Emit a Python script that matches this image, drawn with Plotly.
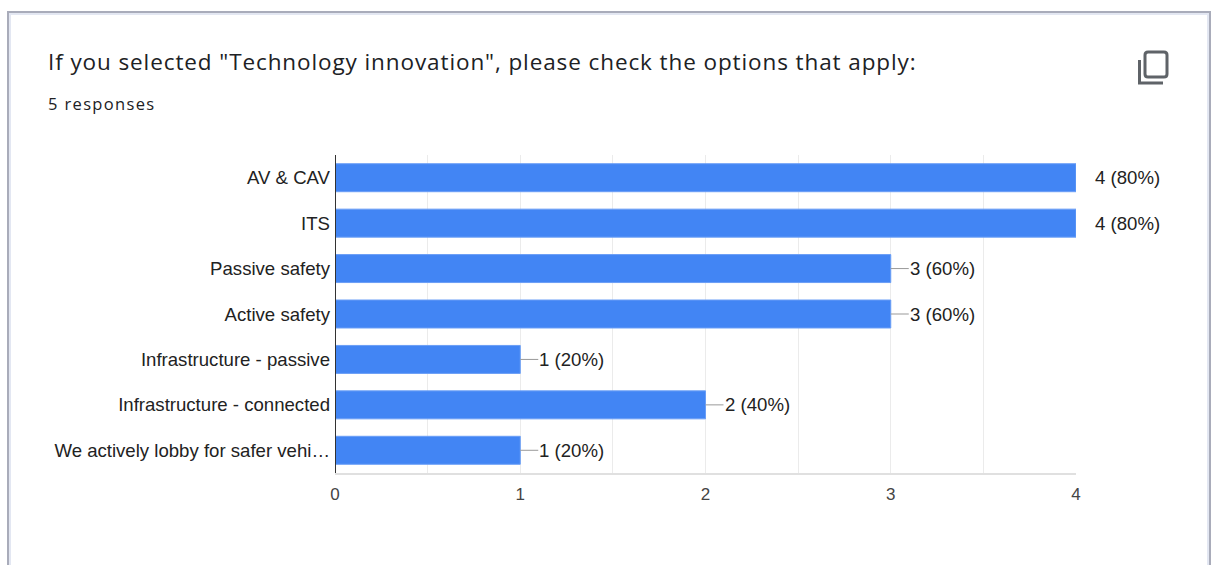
import plotly.graph_objects as go

# Survey results: technology innovation options (5 responses)
question = 'If you selected "Technology innovation", please check the options that apply:'
response_count = 5
options = [
    "AV & CAV",
    "ITS",
    "Passive safety",
    "Active safety",
    "Infrastructure - passive",
    "Infrastructure - connected",
    "We actively lobby for safer vehi\u2026",
]
counts = [4, 4, 3, 3, 1, 2, 1]
x_ticks = [0, 1, 2, 3, 4]

W, H = 1213, 565
L, R, T, B = 335, 1076, 155, 473  # plot area in pixels


def px(x):
    return (x - L) / (R - L)


def py(y):
    return (B - y) / (B - T)


BAR = "#4285f4"
TEXT = "#222222"
LABEL_FONT = "Liberation Sans, Arial"
x_max = max(x_ticks)
unit_px = (R - L) / x_max
lead_px = 18

fig = go.Figure(
    go.Bar(
        x=counts,
        y=options,
        orientation="h",
        marker=dict(color=BAR, line=dict(color="#6a9ef6", width=1)),
        hoverinfo="skip",
    )
)

# value labels with leader lines
shapes = []
annotations = []
for opt, c in zip(options, counts):
    label = f"{c} ({round(100 * c / response_count)}%)"
    if c < x_max:
        shapes.append(dict(type="line", xref="x", yref="y", x0=c, x1=c + lead_px / unit_px,
                           y0=opt, y1=opt, line=dict(color="#999999", width=1)))
    annotations.append(dict(x=c, y=opt, xref="x", yref="y", text=label, showarrow=False,
                            xanchor="left", yanchor="middle", xshift=lead_px - 1,
                            font=dict(family=LABEL_FONT, size=18.6, color=TEXT)))

# header texts
annotations.append(dict(x=px(46), y=py(62), xref="paper", yref="paper",
                        text=f'<span style="letter-spacing:0.9px">{question}</span>',
                        showarrow=False, xanchor="left", yanchor="middle",
                        font=dict(family="Open Sans", size=22.5, color="#202124")))
annotations.append(dict(x=px(46), y=py(104), xref="paper", yref="paper",
                        text=f'<span style="letter-spacing:1.35px">{response_count} responses</span>',
                        showarrow=False, xanchor="left", yanchor="middle",
                        font=dict(family="Open Sans", size=16.5, color="#202124")))

# card outline
shapes.append(dict(type="rect", xref="paper", yref="paper", x0=px(8), x1=px(1210),
                   y0=py(600), y1=py(12), line=dict(color="#a9acba", width=2), layer="below"))
shapes.append(dict(type="rect", xref="paper", yref="paper", x0=px(10), x1=px(1208),
                   y0=py(600), y1=py(14), line=dict(color="#e3e7f2", width=2), layer="below"))

# copy icon
icon = dict(color="#5f6368", width=3)
shapes.append(dict(type="path", xref="paper", yref="paper",
                   path=f"M {px(1139.5)},{py(60)} L {px(1139.5)},{py(83)} L {px(1163)},{py(83)}",
                   line=icon))
r = 3
x0, x1, y0, y1 = 1145, 1167, 52, 77
shapes.append(dict(type="path", xref="paper", yref="paper",
                   path=(f"M {px(x0 + r)},{py(y0)} L {px(x1 - r)},{py(y0)} "
                         f"Q {px(x1)},{py(y0)} {px(x1)},{py(y0 + r)} "
                         f"L {px(x1)},{py(y1 - r)} Q {px(x1)},{py(y1)} {px(x1 - r)},{py(y1)} "
                         f"L {px(x0 + r)},{py(y1)} Q {px(x0)},{py(y1)} {px(x0)},{py(y1 - r)} "
                         f"L {px(x0)},{py(y0 + r)} Q {px(x0)},{py(y0)} {px(x0 + r)},{py(y0)} Z"),
                   line=icon))

fig.update_layout(
    width=W, height=H,
    margin=dict(l=L, r=W - R, t=T, b=H - B),
    paper_bgcolor="white", plot_bgcolor="white",
    bargap=0.384,
    showlegend=False,
    shapes=shapes,
    annotations=annotations,
    xaxis=dict(range=[0, x_max], tickvals=x_ticks, ticktext=[str(t) for t in x_ticks],
               showgrid=True, gridcolor="#ebebeb", gridwidth=1,
               minor=dict(dtick=0.5, showgrid=True, gridcolor="#ebebeb", gridwidth=1),
               zeroline=False, showline=True, linecolor="#e0e0e0", linewidth=2, mirror=False,
               ticks="", ticklabelstandoff=5,
               tickfont=dict(family=LABEL_FONT, size=17, color="#444444")),
    yaxis=dict(autorange="reversed", showgrid=False, zeroline=False,
               showline=False, ticks="", ticklabelstandoff=4,
               tickfont=dict(family=LABEL_FONT, size=18.6, color=TEXT)),
)

# dark baseline at zero
fig.add_shape(type="line", xref="x", yref="paper", x0=0, x1=0, y0=0, y1=1,
              line=dict(color="#333333", width=2))

fig.write_html("out.html")
